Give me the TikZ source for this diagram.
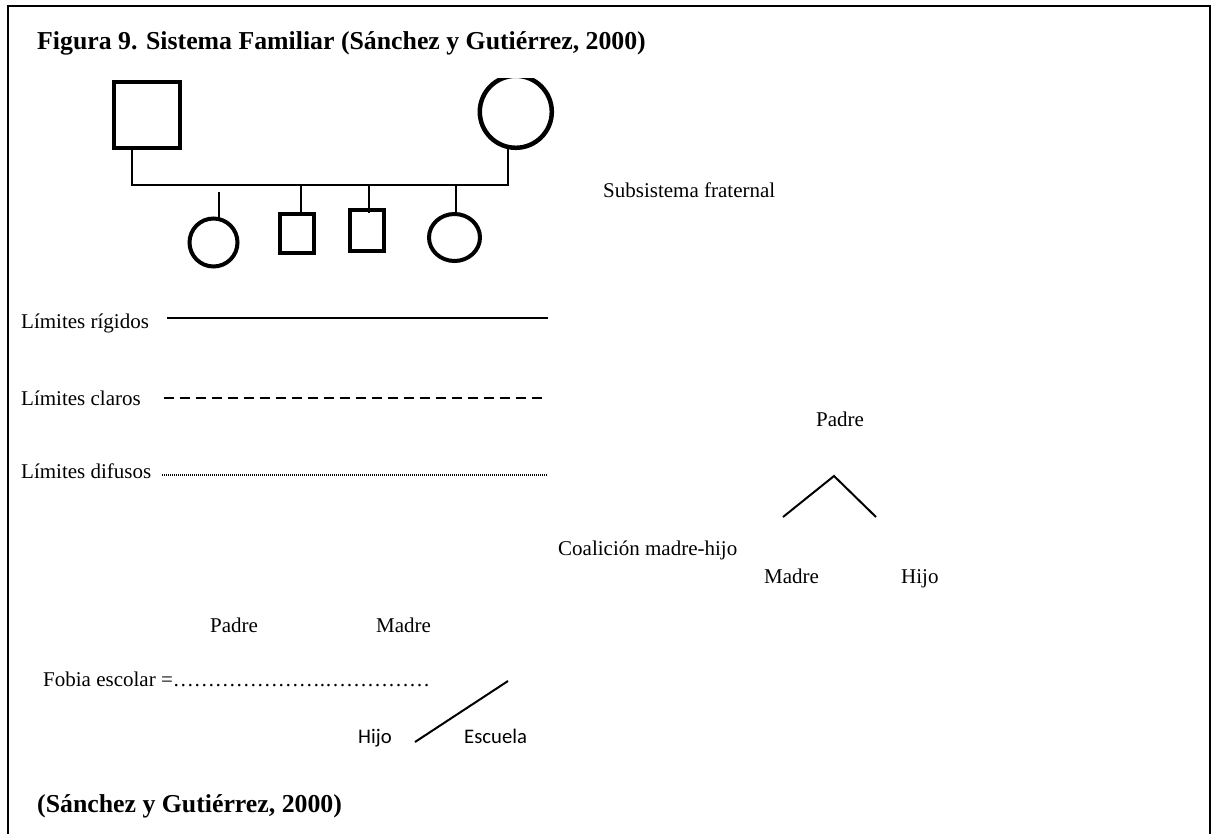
\documentclass[tikz,border=0pt]{standalone}
\usepackage{fontspec}
\setmainfont{Liberation Serif}
\newfontfamily\carlitofont{Carlito}
\usetikzlibrary{shapes.geometric}
\newcommand\myell{…}
\tikzset{
  body/.style={font=\fontsize{21}{25}\selectfont, inner sep=0pt, anchor=base west},
  sansbody/.style={font=\carlitofont\fontsize{20.7}{25}\selectfont, inner sep=0pt, anchor=base west},
  titletext/.style={font=\bfseries\fontsize{25.8}{30}\selectfont, inner sep=0pt, anchor=base west},
  bigshape/.style={draw, line width=4.5pt, inner sep=0pt, outer sep=0pt},
  kidshape/.style={draw, line width=4pt, inner sep=0pt, outer sep=0pt},
  link/.style={line width=2pt},
  frameline/.style={line width=2pt},
}
\begin{document}
\begin{tikzpicture}[x=1pt, y=-1pt]
\useasboundingbox (0,0) rectangle (1214,834);
% frame
\coordinate (fbl) at (7.5,834);
\coordinate (ftl) at (7.5,6.5);
\coordinate (ftr) at (1210,6.5);
\coordinate (fbr) at (1210,834);
\draw[frameline] (fbl) -- (ftl) -- (ftr) -- (fbr);

\node[titletext] (title) at (37,50) {Figura 9. Sistema Familiar (Sánchez y Gutiérrez, 2000)};

% family tree
\node[bigshape, rectangle, minimum width=66pt, minimum height=66pt] (father) at (147,115) {};
\begin{scope}
\clip (0,79) rectangle (1214,834);
\node[bigshape, circle, minimum size=72pt] (mother) at (515.8,111.8) {};
\end{scope}
\node[kidshape, circle, minimum size=48pt] (kid1) at (213.5,242.5) {};
\node[kidshape, rectangle, minimum width=34pt, minimum height=39pt] (kid2) at (297,233.5) {};
\node[kidshape, rectangle, minimum width=34pt, minimum height=41pt] (kid3) at (367,230.5) {};
\node[kidshape, ellipse, minimum width=51pt, minimum height=47pt] (kid4) at (454.5,237.5) {};

\coordinate (fdrop) at (132,150);
\coordinate (barL) at (132,185);
\coordinate (barR) at (508,185);
\coordinate (mdrop) at (508,149);
\draw[link] (fdrop) -- (barL) -- (barR) -- (mdrop);
\coordinate (k1top) at (219,192);
\coordinate (k1bot) at (219,218);
\draw[link] (k1top) -- (k1bot);
\coordinate (k2top) at (301,185);
\coordinate (k2bot) at (301,213);
\draw[link] (k2top) -- (k2bot);
\coordinate (k3top) at (369,185);
\coordinate (k3bot) at (369,213);
\draw[link] (k3top) -- (k3bot);
\coordinate (k4top) at (456,185);
\coordinate (k4bot) at (456,213);
\draw[link] (k4top) -- (k4bot);

\node[body] (subs) at (603,198) {Subsistema fraternal};

% limits legend
\node[body] (rig) at (21,328) {Límites rígidos};
\coordinate (rigA) at (167,318);
\coordinate (rigB) at (548,318);
\draw[link] (rigA) -- (rigB);
\node[body] (cla) at (21,405) {Límites claros};
\coordinate (claA) at (164,398);
\coordinate (claB) at (548,398);
\draw[link, dash pattern=on 10pt off 6pt] (claA) -- (claB);
\node[body] (dif) at (21,478) {Límites difusos};
\coordinate (difA) at (162,475);
\coordinate (difB) at (548,475);
\draw[line width=1.2pt, dash pattern=on 1pt off 1pt] (difA) -- (difB);

% coalition
\node[body] (padreR) at (816,426) {Padre};
\coordinate (cL) at (783,517);
\coordinate (cP) at (834,476);
\coordinate (cR) at (876,517);
\draw[link] (cL) -- (cP) -- (cR);
\node[body] (coal) at (558,555) {Coalición madre-hijo};
\node[body] (madreR) at (764,583) {Madre};
\node[body] (hijoR) at (901,583) {Hijo};

% school phobia
\node[body] (padreB) at (210,632) {Padre};
\node[body] (madreB) at (376,632) {Madre};
\node[body] (fobia) at (43,686) {Fobia escolar =\myell\myell\myell\myell\myell\myell\myell.\myell\myell\myell\myell\myell};
\node[sansbody] (hijoB) at (358,743) {Hijo};
\node[sansbody] (escuela) at (464,743) {Escuela};
\coordinate (sA) at (415,742);
\coordinate (sB) at (508,681);
\draw[link] (sA) -- (sB);

\node[titletext] (source) at (37,812) {(Sánchez y Gutiérrez, 2000)};
\end{tikzpicture}
\end{document}
